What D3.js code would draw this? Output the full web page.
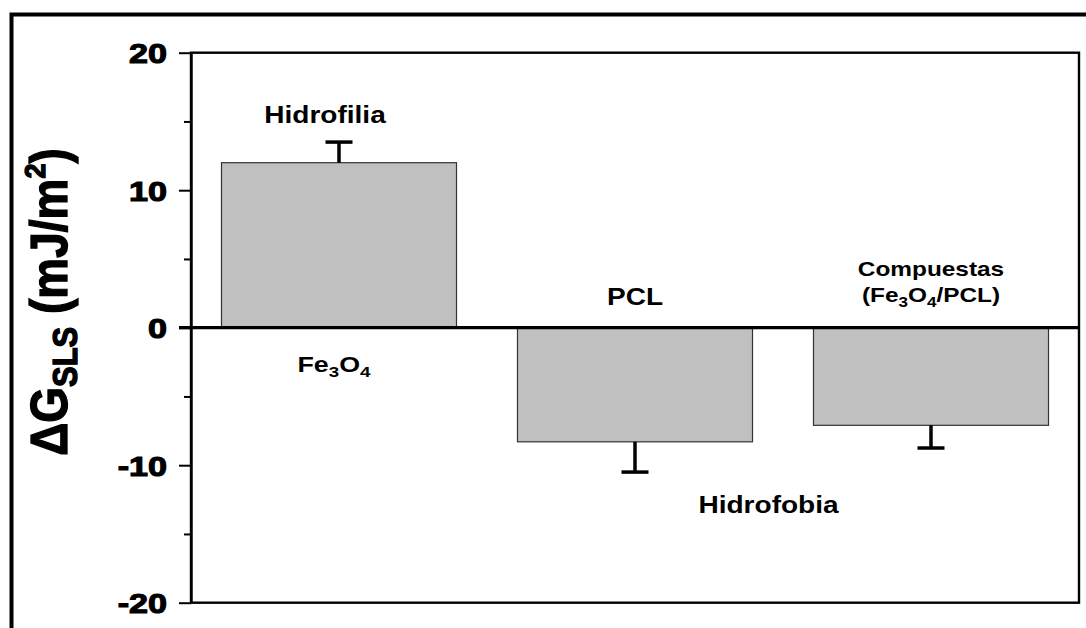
<!DOCTYPE html>
<html>
<head>
<meta charset="utf-8">
<script src="https://cdn.jsdelivr.net/npm/d3@7"></script>
<style>
  body { margin: 0; background: #fff; }
  text { font-family: "Liberation Sans", Arial, sans-serif; font-weight: bold; fill: #000; }
</style>
</head>
<body>
<div id="chart"></div>
<script>
// Data
const categories = ["Fe3O4", "PCL", "Compuestas"];
const values = [12.0, -8.3, -7.1];
const errors = [1.5, 2.2, 1.65];
const majorTicks = [-20, -10, 0, 10, 20];
const minorTicks = [-15, -5, 5, 15];

const W = 1086, H = 628;
const plot = { left: 191, right: 1079, top: 52.7, bottom: 602.7 };
const sx = 1.22; // the original is stretched sideways

const svg = d3.select("#chart").append("svg").attr("width", W).attr("height", H);

// outer frame (right and bottom edges run off the picture)
svg.append("rect")
  .attr("x", 11.5).attr("y", 14.5)
  .attr("width", 1200).attr("height", 800)
  .attr("fill", "none").attr("stroke", "#000").attr("stroke-width", 4);

const x = d3.scaleBand().domain(categories).range([plot.left, plot.right])
  .paddingInner(0.206).paddingOuter(0.103);
const y = d3.scaleLinear().domain([-20, 20]).range([plot.bottom, plot.top]);

const data = categories.map((c, i) => ({ c, v: values[i], e: errors[i] }));

// bars
svg.selectAll("rect.bar").data(data).enter().append("rect")
  .attr("class", "bar")
  .attr("x", (d) => x(d.c))
  .attr("width", x.bandwidth())
  .attr("y", (d) => Math.min(y(d.v), y(0)))
  .attr("height", (d) => Math.abs(y(d.v) - y(0)))
  .attr("fill", "#c0c0c0")
  .attr("stroke", "#333")
  .attr("stroke-width", 1.2);

// error bars (one sided)
const eb = svg.selectAll("g.err").data(data).enter().append("g").attr("class", "err");
eb.append("line")
  .attr("x1", (d) => x(d.c) + x.bandwidth() / 2)
  .attr("x2", (d) => x(d.c) + x.bandwidth() / 2)
  .attr("y1", (d) => y(d.v))
  .attr("y2", (d) => y(d.v + Math.sign(d.v) * d.e))
  .attr("stroke", "#000").attr("stroke-width", 3.5);
eb.append("line")
  .attr("x1", (d) => x(d.c) + x.bandwidth() / 2 - 13.5)
  .attr("x2", (d) => x(d.c) + x.bandwidth() / 2 + 13.5)
  .attr("y1", (d) => y(d.v + Math.sign(d.v) * d.e))
  .attr("y2", (d) => y(d.v + Math.sign(d.v) * d.e))
  .attr("stroke", "#000").attr("stroke-width", 3.5);

// plot frame
svg.append("rect")
  .attr("x", plot.left).attr("y", plot.top)
  .attr("width", plot.right - plot.left).attr("height", plot.bottom - plot.top)
  .attr("fill", "none").attr("stroke", "#000").attr("stroke-width", 2.4);

// y axis, major ticks
const yAxis = svg.append("g")
  .attr("transform", `translate(${plot.left},0)`)
  .call(d3.axisLeft(y).tickValues(majorTicks).tickSize(12).tickSizeOuter(0).tickPadding(12).tickFormat(d3.format("d")));
yAxis.select(".domain").attr("stroke-width", 2.4);
yAxis.selectAll(".tick line").attr("stroke-width", 2);
yAxis.selectAll(".tick text")
  .attr("x", 0)
  .attr("transform", "translate(-24,0) scale(" + sx + ",1)")
  .attr("dy", "0.36em")
  .style("font-size", "28px")
  .style("font-family", "'Liberation Sans', Arial, sans-serif")
  .style("font-weight", "bold")
  .attr("stroke", "#000").attr("stroke-width", 1.1)
  .text((d) => (d < 0 ? "-" + Math.abs(d) : d));

// minor ticks
const yMinor = svg.append("g")
  .attr("transform", `translate(${plot.left},0)`)
  .call(d3.axisLeft(y).tickValues(minorTicks).tickSize(7).tickSizeOuter(0).tickFormat(""));
yMinor.select(".domain").remove();
yMinor.selectAll(".tick line").attr("stroke-width", 2);

// zero line
svg.append("line")
  .attr("x1", plot.left - 12).attr("x2", plot.right)
  .attr("y1", y(0)).attr("y2", y(0))
  .attr("stroke", "#000").attr("stroke-width", 3.2);

// y label
const yl = svg.append("text")
  .attr("transform", "translate(67,302) rotate(-90) scale(1,1.12)")
  .attr("text-anchor", "middle")
  .style("font-size", "46px")
  .attr("stroke", "#000").attr("stroke-width", 1.2);
yl.append("tspan").text("\u0394G");
yl.append("tspan").attr("dy", 9).style("font-size", "31px").text("SLS");
yl.append("tspan").attr("dy", -9).text(" (mJ/m");
yl.append("tspan").attr("dy", -20).style("font-size", "27px").text("2");
yl.append("tspan").attr("dy", 20).text(")");

// annotations; parts are [text, dy, small]
function label(cx, by, size, parts) {
  const t = svg.append("text")
    .attr("transform", `translate(${cx},${by}) scale(${sx},1)`)
    .attr("text-anchor", "middle")
    .style("font-size", size + "px");
  parts.forEach(([s, dy, small]) => {
    const sp = t.append("tspan").text(s);
    if (dy) sp.attr("dy", dy);
    if (small) sp.style("font-size", size * 0.7 + "px");
  });
  return t;
}
const cx = (c) => x(c) + x.bandwidth() / 2;

label(cx("Fe3O4") - 14, y(14.9), 23, [["Hidrofilia"]]);
label(cx("Fe3O4") - 5, y(0) + 44, 22, [["Fe"], ["3", 5, true], ["O", -5], ["4", 5, true]]);
label(cx("PCL"), y(0) - 23, 23, [["PCL"]]);
label(cx("Compuestas"), y(0) - 52, 20, [["Compuestas"]]);
label(cx("Compuestas"), y(0) - 26, 20, [["(Fe"], ["3", 5, true], ["O", -5], ["4", 5, true], ["/PCL)", -5]]);
label(x("PCL") + x.bandwidth() + 16, y(-13.5), 23, [["Hidrofobia"]]);
</script>
</body>
</html>
